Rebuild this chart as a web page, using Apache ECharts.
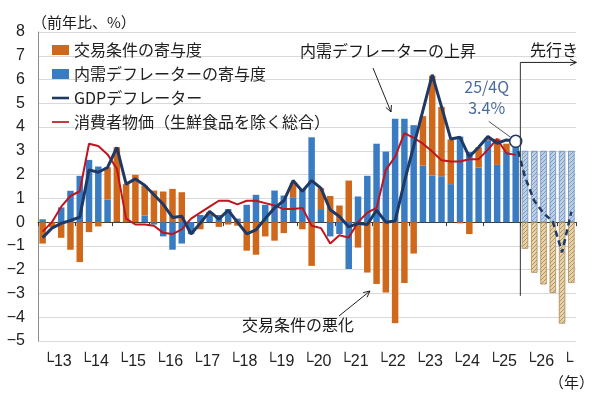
<!DOCTYPE html>
<html>
<head>
<meta charset="utf-8">
<script src="https://cdn.jsdelivr.net/npm/echarts@6/dist/echarts.min.js"></script>
<style>
  html, body { margin: 0; padding: 0; background: #fff; }
  #main { width: 600px; height: 397px; }
</style>
</head>
<body>
<div id="main"></div>
<script>
// quarters 2013Q1 .. 2025Q4 (actual), 2026Q1 .. 2027Q2 (forecast)
const years = ['13','14','15','16','17','18','19','20','21','22','23','24','25','26','27'];
const yearLabels = ['13','14','15','16','17','18','19','20','21','22','23','24','25','26',''];

// 内需デフレーターの寄与度
const domesticHist = [
  0.12, 0.0, 0.62, 1.32, 1.95, 2.62, 2.34, 0.95, 0.05, 0.0, 0.0, 0.28, -0.1,
  -0.6, -1.16, -0.9, -0.5, 0.3, 0.3, 0.3, 0.55, 0.15, 0.73, 1.15, 0.73, 1.33,
  1.12, 1.05, 1.4, 3.57, 0.55, -0.6, -0.5, -1.97, 1.08, 1.95, 3.3, 2.97, 4.35,
  4.35, 4.08, 2.38, 1.96, 1.93, 1.6, 3.6, 2.95, 2.3, 3.45, 2.41, 2.95, 3.3
];
// 交易条件の寄与度
const tradeHist = [
  -0.9, -0.2, -0.66, -1.16, -1.68, -0.42, -0.18, 1.36, 3.1, 1.6, 1.99, 1.26, 1.33,
  1.29, 1.4, 1.26, 0, -0.3, 0.12, -0.2, -0.1, -0.15, -1.2, -1.37, -0.6, -0.78,
  -0.46, 0.6, -0.3, -1.84, 0.88, 1.1, 0.7, 1.75, -1.07, -2.12, -2.6, -2.96, -4.25,
  -2.56, -1.32, 2.08, 4.2, 2.92, 1.88, -0.05, -0.5, 0.85, 0.1, 1.1, 0.35, 0.1
];
// GDPデフレーター
const gdpHist = [
  -0.65, -0.25, -0.05, 0.07, 0.21, 2.2, 2.1, 2.3, 3.15, 1.6, 1.82, 1.55, 1.15,
  0.75, 0.2, 0.25, -0.5, -0.04, 0.45, 0.13, 0.5, 0.0, -0.49, -0.32, 0.15, 0.6,
  0.9, 1.75, 1.3, 1.75, 1.43, 0.52, 0.24, -0.2, -0.05, -0.1, 0.5, 0.0, 0.05,
  1.7, 3.2, 4.7, 6.2, 4.86, 3.5, 3.57, 2.75, 3.15, 3.6, 3.32, 3.46, 3.4
];
// 消費者物価（生鮮食品を除く総合）
const cpiHist = [
  -0.4, 0.0, 0.65, 1.1, 1.3, 3.3, 3.2, 2.85, 2.25, 0.15, -0.1, -0.1, -0.15,
  -0.45, -0.5, -0.3, 0.15, 0.4, 0.65, 0.9, 0.9, 0.75, 0.9, 0.9, 0.8, 0.7,
  0.55, 0.55, 0.6, -0.15, -0.25, -0.9, -0.55, -0.65, 0.0, 0.4, 0.6, 2.2, 2.75,
  3.75, 3.55, 3.3, 2.97, 2.6, 2.55, 2.55, 2.65, 2.65, 3.05, 3.5, 2.9, 2.83
];
// 先行き
const domesticFcst = [3.0, 3.0, 3.0, 3.0, 3.0, 3.0];
const tradeFcst = [-1.12, -2.13, -2.62, -2.98, -4.27, -2.56];
const gdpFcst = [1.9, 0.9, 0.38, 0.02, -1.27, 0.44];

const nHist = gdpHist.length;
const categories = [];
years.forEach(function (y) {
  ['1Q', '2Q', '3Q', '4Q'].forEach(function (q) {
    if (categories.length < nHist + gdpFcst.length) categories.push(y + '/' + q);
  });
});

const pad = function (n) { return new Array(n).fill(null); };

function hatch(base, dot) {
  const c = document.createElement('canvas');
  c.width = 4; c.height = 4;
  const g = c.getContext('2d');
  g.fillStyle = base; g.fillRect(0, 0, 4, 4);
  g.fillStyle = dot;
  g.fillRect(0, 0, 1, 1); g.fillRect(2, 2, 1, 1);
  g.fillRect(1, 3, 1, 1); g.fillRect(3, 1, 1, 1);
  return { image: c, repeat: 'repeat' };
}

const FONT = '"Noto Sans CJK JP", sans-serif';
const NUM_FONT = '"Liberation Sans", "DejaVu Sans", sans-serif';
const C_ORANGE = '#D0681C';
const C_BLUE = '#3A7CC2';
const C_NAVY = '#1F3864';
const C_RED = '#C0141E';

const yearTick = function (idx) { return idx % 4 === 0; };

const chart = echarts.init(document.getElementById('main'));
chart.setOption({
  animation: false,
  backgroundColor: '#fff',
  grid: { left: 38, right: 24, top: 32, bottom: 56, containLabel: false },
  legend: {
    orient: 'vertical',
    left: 52,
    top: 42,
    padding: 0,
    itemGap: 8,
    itemWidth: 17,
    itemHeight: 10,
    textStyle: { fontSize: 16, fontFamily: FONT, color: '#222' },
    data: [
      { name: '交易条件の寄与度', icon: 'rect' },
      { name: '内需デフレーターの寄与度', icon: 'rect' },
      { name: 'GDPデフレーター', icon: 'path://M0,0H20V3H0Z', itemStyle: { color: C_NAVY, borderWidth: 0 } },
      { name: '消費者物価（生鮮食品を除く総合）', icon: 'path://M0,0H20V2H0Z', itemStyle: { color: C_RED, borderWidth: 0 } }
    ]
  },
  xAxis: [
    {
      type: 'category',
      data: categories,
      position: 'bottom',
      axisLine: { show: false, onZero: false },
      axisTick: { show: false },
      axisLabel: {
        interval: yearTick,
        align: 'left',
        margin: 13,
        fontSize: 16,
        fontFamily: NUM_FONT,
        color: '#222',
        formatter: function (v, idx) {
          return idx % 4 === 0 ? '└' + yearLabels[idx / 4] : '';
        }
      },
      splitLine: { show: false }
    },
    {
      type: 'category',
      data: categories,
      position: 'bottom',
      axisLine: { show: true, onZero: true, lineStyle: { color: '#3a3a3a', width: 1 } },
      axisTick: { show: true, interval: yearTick, length: 4, lineStyle: { color: '#3a3a3a' } },
      axisLabel: { show: false },
      splitLine: { show: false }
    }
  ],
  yAxis: {
    type: 'value',
    min: -5,
    max: 8,
    interval: 1,
    axisLine: { show: true, lineStyle: { color: '#8c8c8c' } },
    axisTick: { show: false },
    axisLabel: {
      margin: 13,
      fontSize: 16,
      fontFamily: NUM_FONT,
      color: '#222',
      formatter: function (v) { return v < 0 ? '\u2212' + (-v) : String(v); }
    },
    splitLine: { lineStyle: { color: '#d9d9d9' } }
  },
  series: [
    {
      name: '内需デフレーターの寄与度', type: 'bar', stack: 'c',
      barCategoryGap: '30%', data: domesticHist,
      itemStyle: { color: C_BLUE }
    },
    {
      name: '交易条件の寄与度', type: 'bar', stack: 'c',
      data: tradeHist, itemStyle: { color: C_ORANGE }
    },
    {
      name: 'fcstDomestic', type: 'bar', stack: 'c',
      data: pad(nHist).concat(domesticFcst),
      itemStyle: { color: hatch('#bccfe5', '#7d9dc6'), borderColor: '#6a8dba', borderWidth: 0.8 }
    },
    {
      name: 'fcstTrade', type: 'bar', stack: 'c',
      data: pad(nHist).concat(tradeFcst),
      itemStyle: { color: hatch('#e5d2ab', '#b6935a'), borderColor: '#ad8c55', borderWidth: 0.8 }
    },
    {
      name: '消費者物価（生鮮食品を除く総合）', type: 'line', symbol: 'none',
      data: cpiHist, z: 3,
      lineStyle: { color: C_RED, width: 2 }, itemStyle: { color: C_RED }
    },
    {
      name: 'GDPデフレーター', type: 'line', symbol: 'none',
      data: gdpHist, z: 4,
      lineStyle: { color: C_NAVY, width: 3 }, itemStyle: { color: C_NAVY },
      markPoint: {
        symbol: 'circle', symbolSize: 12, z: 6,
        label: { show: false },
        itemStyle: { color: '#fff', borderColor: C_NAVY, borderWidth: 1.5 },
        data: [{ coord: [nHist - 1, gdpHist[nHist - 1]] }]
      }
    },
    {
      name: 'gdpFcst', type: 'line', symbol: 'none', z: 4,
      data: pad(nHist - 1).concat([gdpHist[nHist - 1]], gdpFcst),
      lineStyle: { color: C_NAVY, width: 2.5, type: [6, 4] }
    }
  ]
});

// annotations
const P = function (i, v) { return chart.convertToPixel({ xAxisIndex: 0, yAxisIndex: 0 }, [i, v]); };

function text(x, y, s, opt) {
  opt = opt || {};
  return {
    type: 'text', x: x, y: y, z: 20,
    style: {
      text: s, font: (opt.size || 16) + 'px ' + FONT, fill: opt.color || '#1a1a1a',
      align: opt.align || 'left', verticalAlign: 'middle',
      textAlign: opt.align || 'left', textVerticalAlign: 'middle'
    }
  };
}
function seg(x1, y1, x2, y2, color) {
  return { type: 'line', z: 20, shape: { x1: x1, y1: y1, x2: x2, y2: y2 }, style: { stroke: color || '#222', lineWidth: 1 } };
}
function arrow(x1, y1, x2, y2) {
  const a = Math.atan2(y2 - y1, x2 - x1), h = 7, w = 0.45;
  return [
    seg(x1, y1, x2, y2),
    {
      type: 'polyline', z: 20,
      shape: { points: [[x2 - h * Math.cos(a - w), y2 - h * Math.sin(a - w)], [x2, y2], [x2 - h * Math.cos(a + w), y2 - h * Math.sin(a + w)]] },
      style: { stroke: '#222', lineWidth: 1, fill: null }
    }
  ];
}

const last = P(nHist - 1, gdpHist[nHist - 1]);
const divX = (P(nHist - 1, 0)[0] + P(nHist, 0)[0]) / 2;
const divBottom = P(0, -3.1)[1];
const divTop = P(0, 6.72)[1];
const rightEnd = P(categories.length - 1, 0)[0] + 5;

const elements = [
  text(32, 22, '（前年比、%）', { size: 15 }),
  text(594, 382, '（年）', { size: 15, align: 'right' }),
  text(300, 51, '内需デフレーターの上昇'),
  text(242, 325, '交易条件の悪化'),
  text(530, 50, '先行き'),
  text(last[0] - 29, last[1] - 54, '25/4Q', { color: '#4A6C9B', align: 'center' }),
  text(last[0] - 29, last[1] - 33, '3.4%', { color: '#4A6C9B', align: 'center' }),
  seg(last[0] - 27, last[1] - 20, last[0] - 5, last[1] - 4, '#555'),
  seg(divX, divBottom, divX, divTop, '#333')
].concat(
  arrow(373, 68, 391, 112),
  arrow(339, 316, 370, 291),
  arrow(divX, divTop, rightEnd, divTop)
);

chart.setOption({ graphic: { elements: elements } });
</script>
</body>
</html>
